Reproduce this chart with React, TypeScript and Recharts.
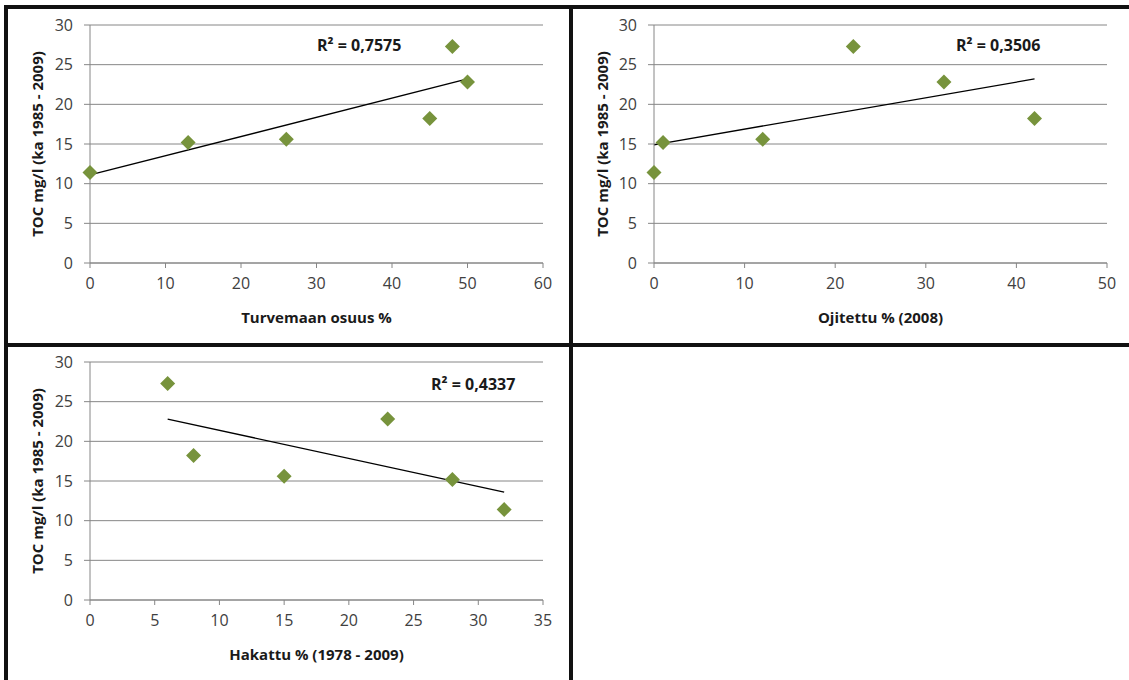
import React from "react";
import { CartesianGrid, ReferenceLine, Scatter, ScatterChart, XAxis, YAxis } from "recharts";

// TOC values shared by all three panels (mg/l, average 1985 - 2009)
const turvePoints = [
  { x: 0, y: 11.4 },
  { x: 13, y: 15.2 },
  { x: 26, y: 15.6 },
  { x: 45, y: 18.2 },
  { x: 48, y: 27.3 },
  { x: 50, y: 22.8 },
];
const ojitettuPoints = [
  { x: 0, y: 11.4 },
  { x: 1, y: 15.2 },
  { x: 12, y: 15.6 },
  { x: 22, y: 27.3 },
  { x: 32, y: 22.8 },
  { x: 42, y: 18.2 },
];
const hakattuPoints = [
  { x: 6, y: 27.3 },
  { x: 8, y: 18.2 },
  { x: 15, y: 15.6 },
  { x: 23, y: 22.8 },
  { x: 28, y: 15.2 },
  { x: 32, y: 11.4 },
];

// trendline ends
const turveTrend = [
  { x: 0, y: 11.1 },
  { x: 50, y: 23.2 },
];
const ojitettuTrend = [
  { x: 0, y: 14.9 },
  { x: 42, y: 23.2 },
];
const hakattuTrend = [
  { x: 6, y: 22.8 },
  { x: 32, y: 13.6 },
];

const yTicks = [0, 5, 10, 15, 20, 25, 30];
const turveTicks = [0, 10, 20, 30, 40, 50, 60];
const ojitettuTicks = [0, 10, 20, 30, 40, 50];
const hakattuTicks = [0, 5, 10, 15, 20, 25, 30, 35];

const yTitle = "TOC mg/l (ka 1985 - 2009)";

const FONT = "'Open Sans', sans-serif";
const GRID = "#868686";
const TICK = { fill: "#404040", fontSize: 16 };
const TITLE = { fill: "#1a1a1a", fontSize: 15, fontWeight: 700 };

function Diamond(props: { cx?: number; cy?: number }) {
  const { cx, cy } = props;
  if (cx == null || cy == null) return null;
  const r = 7.5;
  return (
    <polygon
      points={`${cx},${cy - r} ${cx + r},${cy} ${cx},${cy + r} ${cx - r},${cy}`}
      fill="#77933C"
    />
  );
}

interface PanelProps {
  left: number;
  top: number;
  width: number;
  height: number;
  marginTop: number;
  marginRight: number;
  yAxisWidth: number;
  points: { x: number; y: number }[];
  trend: { x: number; y: number }[];
  xTicks: number[];
  xTitle: string;
}

function Panel(p: PanelProps) {
  const xMax = p.xTicks[p.xTicks.length - 1];
  return (
    <div style={{ position: "absolute", left: p.left, top: p.top }}>
      <ScatterChart
        width={p.width}
        height={p.height}
        margin={{ top: p.marginTop, right: p.marginRight, bottom: 50, left: 0 }}
      >
        <CartesianGrid vertical={false} stroke={GRID} />
        <XAxis
          type="number"
          dataKey="x"
          domain={[0, xMax]}
          ticks={p.xTicks}
          interval={0}
          height={30}
          stroke={GRID}
          tickSize={5}
          tickMargin={10}
          tick={TICK}
          label={{ value: p.xTitle, position: "bottom", offset: 19, style: TITLE }}
        />
        <YAxis
          type="number"
          dataKey="y"
          domain={[0, 30]}
          ticks={yTicks}
          interval={0}
          width={p.yAxisWidth}
          stroke={GRID}
          tickSize={6}
          tick={{ ...TICK, dx: -9 }}
          label={{
            value: yTitle,
            angle: -90,
            position: "insideLeft",
            offset: 30,
            style: { ...TITLE, textAnchor: "middle" },
          }}
        />
        <ReferenceLine
          segment={[p.trend[0], p.trend[1]]}
          stroke="#000"
          strokeWidth={1.3}
          ifOverflow="visible"
        />
        <Scatter data={p.points} shape={<Diamond />} isAnimationActive={false} />
      </ScatterChart>
    </div>
  );
}

const line: React.CSSProperties = { position: "absolute", background: "#111" };

function R2({ left, top, value }: { left: number; top: number; value: string }) {
  return (
    <div
      style={{
        position: "absolute",
        left,
        top,
        fontSize: 16,
        fontWeight: 700,
        color: "#1a1a1a",
        whiteSpace: "nowrap",
      }}
    >
      R² = {value}
    </div>
  );
}

export default function App() {
  return (
    <div
      style={{
        position: "absolute",
        left: 0,
        top: 0,
        width: 1129,
        height: 680,
        overflow: "hidden",
        background: "#fff",
        fontFamily: FONT,
      }}
    >
      <Panel
        left={8}
        top={9}
        width={561}
        height={334}
        marginTop={16}
        marginRight={26}
        yAxisWidth={82}
        points={turvePoints}
        trend={turveTrend}
        xTicks={turveTicks}
        xTitle="Turvemaan osuus %"
      />
      <Panel
        left={573}
        top={9}
        width={556}
        height={334}
        marginTop={16}
        marginRight={22}
        yAxisWidth={81}
        points={ojitettuPoints}
        trend={ojitettuTrend}
        xTicks={ojitettuTicks}
        xTitle="Ojitettu % (2008)"
      />
      <Panel
        left={8}
        top={347}
        width={561}
        height={333}
        marginTop={15}
        marginRight={26}
        yAxisWidth={82}
        points={hakattuPoints}
        trend={hakattuTrend}
        xTicks={hakattuTicks}
        xTitle="Hakattu % (1978 - 2009)"
      />

      <R2 left={317} top={34} value="0,7575" />
      <R2 left={956} top={34} value="0,3506" />
      <R2 left={431} top={373} value="0,4337" />

      <div style={{ ...line, left: 4, top: 5, width: 1125, height: 4 }} />
      <div style={{ ...line, left: 4, top: 5, width: 4, height: 675 }} />
      <div style={{ ...line, left: 569, top: 5, width: 4, height: 675 }} />
      <div style={{ ...line, left: 4, top: 343, width: 1125, height: 4 }} />
    </div>
  );
}
